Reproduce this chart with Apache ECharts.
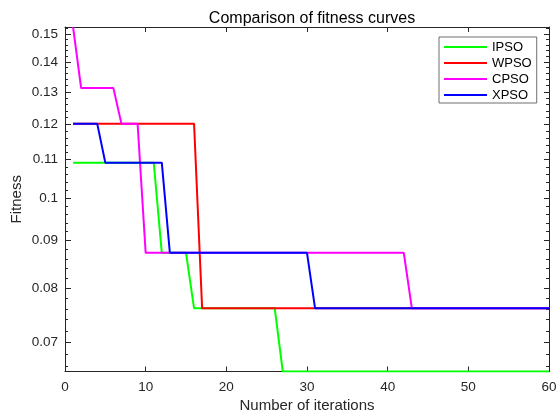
<!DOCTYPE html>
<html>
<head>
<meta charset="utf-8">
<script src="https://cdn.jsdelivr.net/npm/echarts@6/dist/echarts.min.js"></script>
<style>
html,body{margin:0;padding:0;background:#fff;}
#chart{width:557px;height:414px;}
</style>
</head>
<body>
<div id="chart"></div>
<script>
// Iterations 1..60
const iterations = [1,2,3,4,5,6,7,8,9,10,11,12,13,14,15,16,17,18,19,20,21,22,23,24,25,26,27,28,29,30,31,32,33,34,35,36,37,38,39,40,41,42,43,44,45,46,47,48,49,50,51,52,53,54,55,56,57,58,59,60];
const seriesNames = ['IPSO','WPSO','CPSO','XPSO'];
const IPSO = [0.1091,0.1091,0.1091,0.1091,0.1091,0.1091,0.1091,0.1091,0.1091,0.1091,0.1091,0.0873,0.0873,0.0873,0.0873,0.0761,0.0761,0.0761,0.0761,0.0761,0.0761,0.0761,0.0761,0.0761,0.0761,0.0761,0.0651,0.0651,0.0651,0.0651,0.0651,0.0651,0.0651,0.0651,0.0651,0.0651,0.0651,0.0651,0.0651,0.0651,0.0651,0.0651,0.0651,0.0651,0.0651,0.0651,0.0651,0.0651,0.0651,0.0651,0.0651,0.0651,0.0651,0.0651,0.0651,0.0651,0.0651,0.0651,0.0651,0.0651];
const WPSO = [0.1201,0.1201,0.1201,0.1201,0.1201,0.1201,0.1201,0.1201,0.1201,0.1201,0.1201,0.1201,0.1201,0.1201,0.1201,0.1201,0.0761,0.0761,0.0761,0.0761,0.0761,0.0761,0.0761,0.0761,0.0761,0.0761,0.0761,0.0761,0.0761,0.0761,0.0761,0.0761,0.0761,0.0761,0.0761,0.0761,0.0761,0.0761,0.0761,0.0761,0.0761,0.0761,0.0761,0.0761,0.0761,0.0761,0.0761,0.0761,0.0761,0.0761,0.0761,0.0761,0.0761,0.0761,0.0761,0.0761,0.0761,0.0761,0.0761,0.0761];
const CPSO = [0.1526,0.1312,0.1312,0.1312,0.1312,0.1312,0.1201,0.1201,0.1201,0.0873,0.0873,0.0873,0.0873,0.0873,0.0873,0.0873,0.0873,0.0873,0.0873,0.0873,0.0873,0.0873,0.0873,0.0873,0.0873,0.0873,0.0873,0.0873,0.0873,0.0873,0.0873,0.0873,0.0873,0.0873,0.0873,0.0873,0.0873,0.0873,0.0873,0.0873,0.0873,0.0873,0.0761,0.0761,0.0761,0.0761,0.0761,0.0761,0.0761,0.0761,0.0761,0.0761,0.0761,0.0761,0.0761,0.0761,0.0761,0.0761,0.0761,0.0761];
const XPSO = [0.1201,0.1201,0.1201,0.1201,0.1091,0.1091,0.1091,0.1091,0.1091,0.1091,0.1091,0.1091,0.0873,0.0873,0.0873,0.0873,0.0873,0.0873,0.0873,0.0873,0.0873,0.0873,0.0873,0.0873,0.0873,0.0873,0.0873,0.0873,0.0873,0.0873,0.0761,0.0761,0.0761,0.0761,0.0761,0.0761,0.0761,0.0761,0.0761,0.0761,0.0761,0.0761,0.0761,0.0761,0.0761,0.0761,0.0761,0.0761,0.0761,0.0761,0.0761,0.0761,0.0761,0.0761,0.0761,0.0761,0.0761,0.0761,0.0761,0.0761];
const seriesColors = ['#00ff00','#ff0000','#ff00ff','#0000ff'];
const yMajorTicks = [0.07,0.08,0.09,0.1,0.11,0.12,0.13,0.14,0.15];
const yMinorTicks = [0.066,0.068,0.072,0.074,0.076,0.078,0.082,0.084,0.086,0.088,0.092,0.094,0.096,0.098,0.102,0.104,0.106,0.108,0.112,0.114,0.116,0.118,0.122,0.124,0.126,0.128,0.132,0.134,0.136,0.138,0.142,0.144,0.146,0.148,0.152];
const xTicks = [0,10,20,30,40,50,60];

const dataList = [IPSO, WPSO, CPSO, XPSO];
const textColor = '#262626';
const font = 'Liberation Sans, Arial, sans-serif';
const yMin = 0.0651, yMax = 0.1526;

function yAxisBase(pos, show, ticks, len, labels) {
  return {
    type: 'log', logBase: 10, position: pos, min: yMin, max: yMax,
    axisLine: { show: show, lineStyle: { color: textColor, width: 1 } },
    axisTick: { show: true, inside: true, length: len, customValues: ticks, lineStyle: { color: textColor } },
    axisLabel: labels ? { show: true, customValues: yMajorTicks, color: textColor, fontSize: 13.5, fontFamily: font, margin: 7 } : { show: false },
    minorTick: { show: false },
    splitLine: { show: false }
  };
}

const chart = echarts.init(document.getElementById('chart'), null, { renderer: 'canvas' });
const yAxes = [
  Object.assign(yAxisBase('left', true, yMajorTicks, 6, true), {
    name: 'Fitness', nameLocation: 'middle', nameGap: 41, nameMoveOverlap: false,
    nameTextStyle: { color: textColor, fontSize: 15, fontFamily: font }
  }),
  yAxisBase('left', false, yMinorTicks, 3, false),
  yAxisBase('right', true, yMajorTicks, 5, false),
  yAxisBase('right', false, yMinorTicks, 3, false)
];

chart.setOption({
  animation: false,
  backgroundColor: '#ffffff',
  title: {
    text: 'Comparison of fitness curves', left: 307, top: 6, textAlign: 'center',
    textStyle: { color: '#000', fontSize: 16, fontWeight: 'normal', fontFamily: font }
  },
  grid: { left: 65, top: 27, right: 8, bottom: 42.5, containLabel: false, outerBoundsMode: 'none' },
  legend: {
    orient: 'vertical', left: 439, top: 37, data: seriesNames,
    icon: 'rect', itemWidth: 43, itemHeight: 2, itemGap: 0,
    padding: [2, 5, 0, 5],
    borderColor: '#6e6e6e', borderWidth: 1, backgroundColor: '#fff',
    textStyle: { color: '#000', fontSize: 13, fontFamily: font, lineHeight: 16 },
    itemStyle: { borderWidth: 0 }
  },
  xAxis: [
    {
      type: 'value', position: 'bottom', min: 0, max: 60, interval: 10,
      name: 'Number of iterations', nameLocation: 'middle', nameGap: 27, nameMoveOverlap: false,
      nameTextStyle: { color: textColor, fontSize: 15, fontFamily: font },
      axisLine: { lineStyle: { color: textColor, width: 1 } },
      axisTick: { inside: true, length: 5, lineStyle: { color: textColor } },
      axisLabel: { color: textColor, fontSize: 13.5, fontFamily: font, margin: 9 },
      splitLine: { show: false }
    },
    {
      type: 'value', position: 'top', min: 0, max: 60, interval: 10,
      axisLine: { lineStyle: { color: textColor, width: 1 } },
      axisTick: { inside: true, length: 5, lineStyle: { color: textColor } },
      axisLabel: { show: false },
      splitLine: { show: false }
    }
  ],
  yAxis: yAxes,
  series: seriesNames.map((name, i) => ({
    name: name, type: 'line', xAxisIndex: 0, yAxisIndex: 0,
    data: iterations.map((it, k) => [it, dataList[i][k]]),
    showSymbol: false, symbol: 'none',
    lineStyle: { color: seriesColors[i], width: 2 },
    itemStyle: { color: seriesColors[i] },
    clip: true
  }))
});
</script>
</body>
</html>
